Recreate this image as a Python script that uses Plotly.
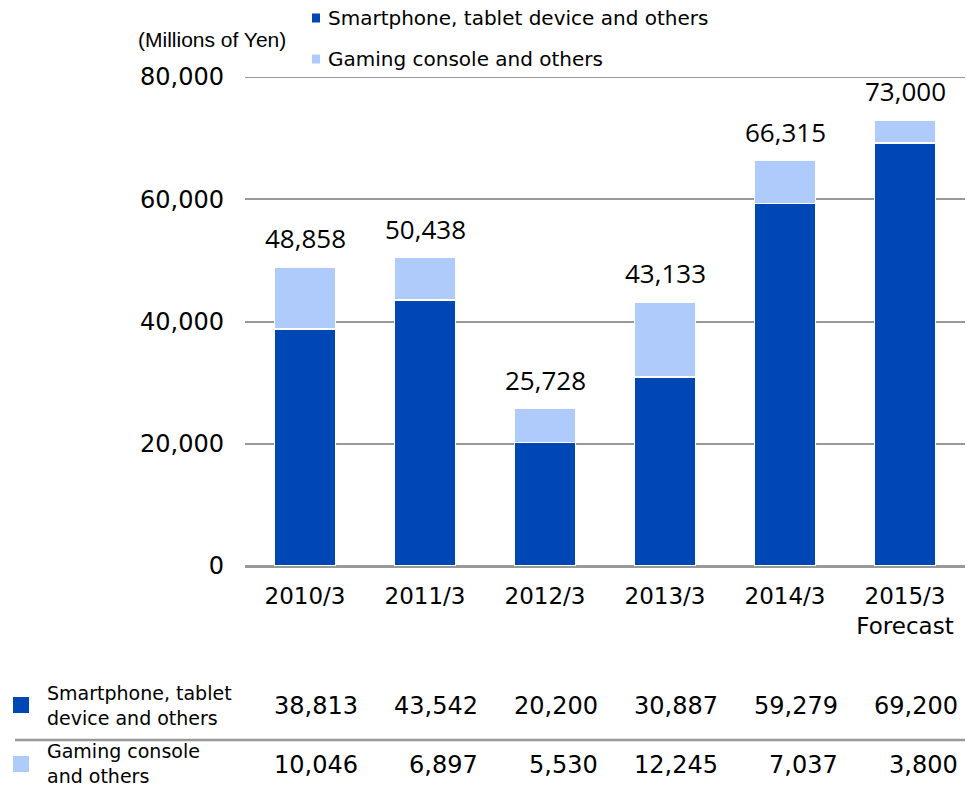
import plotly.graph_objects as go

categories = ["2010/3", "2011/3", "2012/3", "2013/3", "2014/3", "2015/3"]
tick_labels = ["2010/3", "2011/3", "2012/3", "2013/3", "2014/3", "2015/3<br>Forecast"]
smartphone = [38813, 43542, 20200, 30887, 59279, 69200]
gaming = [10046, 6897, 5530, 12245, 7037, 3800]
totals = [48858, 50438, 25728, 43133, 66315, 73000]
series_names = ["Smartphone, tablet device and others", "Gaming console and others"]
table_names = ["Smartphone, tablet<br>device and others", "Gaming console<br>and others"]
y_ticks = [0, 20000, 40000, 60000, 80000]

DARK = "#0047B6"
LIGHT = "#AFCBFC"
GRID = "#999999"

# plot area geometry (pixels)
W, H = 967, 787
L, R, T, B = 245, 2, 77, 221
PW, PH = W - L - R, H - T - B


def px(x):
    return (x - L) / PW


def py(y):
    return (H - B - y) / PH


fig = go.Figure()
fig.add_trace(go.Bar(x=categories, y=smartphone, name=series_names[0],
                     marker=dict(color=DARK, line=dict(color="white", width=1.5))))
fig.add_trace(go.Bar(x=categories, y=gaming, name=series_names[1],
                     marker=dict(color=LIGHT, line=dict(color="white", width=1.5))))

annotations = []
shapes = []

# totals above bars
for c, t in zip(categories, totals):
    annotations.append(dict(x=c, y=t, xref="x", yref="y", text=f"{t:,}",
                            showarrow=False, yanchor="bottom", yshift=9,
                            font=dict(family="Open Sans", size=26, color="#000")))

# unit label
annotations.append(dict(x=px(212), y=py(40), xref="paper", yref="paper",
                        text="(Millions of Yen)", showarrow=False,
                        xanchor="center", yanchor="middle",
                        font=dict(family="Liberation Sans Narrow, Liberation Sans", size=21, color="#000")))

# custom legend
colors = [DARK, LIGHT]
leg_y = [18, 59]
for i in range(2):
    shapes.append(dict(type="rect", xref="paper", yref="paper",
                       x0=px(312), x1=px(320), y0=py(leg_y[i] + 4.5), y1=py(leg_y[i] - 4.5),
                       fillcolor=colors[i], line=dict(width=0)))
    annotations.append(dict(x=px(326), y=py(leg_y[i]), xref="paper", yref="paper",
                            text=series_names[i], showarrow=False,
                            xanchor="left", yanchor="middle",
                            font=dict(family="DejaVu Sans", size=20, color="#000")))

# data table
row_y = [705, 764]
rows = [smartphone, gaming]
for r, (vals, yy) in enumerate(zip(rows, row_y)):
    annotations.append(dict(x=px(45), y=py(yy), xref="paper", yref="paper",
                            text=table_names[r], showarrow=False, align="left",
                            xanchor="left", yanchor="middle",
                            font=dict(family="DejaVu Sans", size=19, color="#000")))
    shapes.append(dict(type="rect", xref="paper", yref="paper",
                       x0=px(13), x1=px(29), y0=py(yy + 8), y1=py(yy - 8),
                       fillcolor=colors[r], line=dict(width=0)))
    for i, v in enumerate(vals):
        annotations.append(dict(x=i + 0.46, y=py(yy + 1), xref="x", yref="paper",
                                text=f"{v:,}", showarrow=False,
                                xanchor="right", yanchor="middle",
                                font=dict(family="DejaVu Sans", size=24, color="#000")))

shapes.append(dict(type="line", xref="paper", yref="paper",
                   x0=px(15), x1=1.0, y0=py(740), y1=py(740),
                   line=dict(color=GRID, width=2.5)))
# top gridline (at the top of the axis range)
shapes.append(dict(type="line", xref="paper", yref="y",
                   x0=0, x1=1, y0=y_ticks[-1], y1=y_ticks[-1],
                   line=dict(color=GRID, width=2)))

fig.update_layout(
    barmode="stack",
    bargap=0.49,
    width=W, height=H,
    margin=dict(l=L, r=R, t=T, b=B, autoexpand=False),
    paper_bgcolor="white", plot_bgcolor="white",
    showlegend=False,
    annotations=annotations,
    shapes=shapes,
    xaxis=dict(tickmode="array", tickvals=categories, ticktext=tick_labels,
               tickfont=dict(family="DejaVu Sans", size=23, color="#000"),
               showline=False, showgrid=False, ticks="", range=[-0.5, 5.5],
               ticklabelstandoff=14),
    yaxis=dict(range=[0, 80000], tickvals=y_ticks, tickformat=",d",
               tickfont=dict(family="DejaVu Sans", size=24, color="#000"),
               showgrid=True, gridcolor=GRID, gridwidth=2,
               zeroline=True, zerolinecolor=GRID, zerolinewidth=2.5,
               ticks="", ticklabelstandoff=20),
)

fig.write_html("out.html")
